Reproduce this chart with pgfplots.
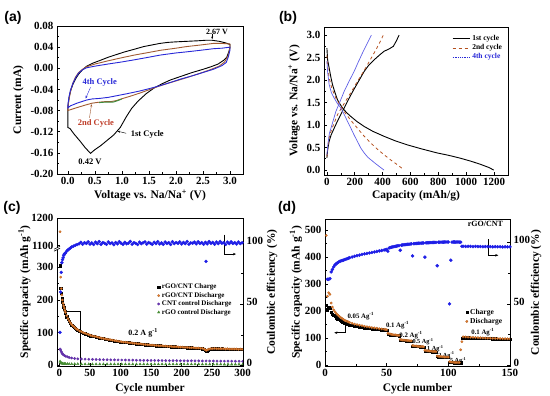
\documentclass[border=0pt]{standalone}
\usepackage{fontspec}
\setmainfont{Liberation Serif}
\newfontfamily\panelfont{Liberation Sans}
\usepackage{pgfplots}
\pgfplotsset{compat=1.18}
\usepackage{pgfplotstable}
\usetikzlibrary{arrows.meta}

\definecolor{cvbrown}{RGB}{160,90,50}
\definecolor{cvblue}{RGB}{40,40,215}
\definecolor{cvgreen}{RGB}{60,140,60}
\definecolor{lblred}{RGB}{190,60,40}
\definecolor{dashbrown}{RGB}{180,80,30}
\definecolor{cyc4}{RGB}{95,95,230}
\definecolor{dischorange}{RGB}{230,125,45}
\definecolor{ceblue}{RGB}{30,30,230}
\definecolor{cntpurple}{RGB}{100,50,170}
\definecolor{rgogreen}{RGB}{70,140,50}

% ---------- panel (c) data ----------
\pgfplotstableread{
cyc chg dis
1 305 409
2 235 270
3 220 235
4 205 215
5 195 200
6 185 190
7 178 182
8 171 175
9 165 168
10 159 162
12 149 152
14 141 143
16 134 136
18 128 130
20 123 125
22 119 121
24 116 118
26 113 114
28 110 111
30 107 109
33 104 105
36 102 103
39 99 100
42 97 98
45 95 96
48 93 94
51 91 92
54 89 90
57 88 89
60 87 88
63 85 86
66 84 85
69 83 83
72 82 82
75 80 81
78 79 80
81 78 79
84 77 78
87 76 77
90 75 76
93 74 75
96 73 74
99 72 73
102 72 72
105 71 71
108 70 71
111 70 70
114 69 69
117 68 69
120 68 68
123 67 67
126 66 67
129 66 66
132 65 66
135 65 65
138 64 64
141 63 64
144 63 63
147 62 63
150 62 62
153 61 62
156 61 61
159 60 61
162 60 60
165 60 60
168 59 60
171 59 59
174 58 59
177 58 58
180 58 58
183 57 58
186 57 57
189 57 57
192 56 57
195 56 56
198 56 56
201 55 56
204 55 55
207 55 55
210 54 55
213 54 54
216 54 54
219 53 54
222 53 53
225 53 53
228 52 53
231 52 52
234 51 52
237 49 50
239 46 47
241 45 46
243 47 48
245 49 50
248 50 51
251 51 51
254 51 52
257 51 51
260 51 51
263 50 51
266 51 51
269 50 51
272 50 50
275 50 51
278 50 50
281 50 50
284 49 50
287 50 50
290 49 50
293 49 49
296 49 50
299 49 49
}\tabCcap

\pgfplotstableread{
cyc cnt rgo
1 50 12
2 47 9
3 42 7
4 38 6
5 35 5.5
6 33 5
8 30 5
10 28 4.5
13 26 4.5
16 24 4
20 22.5 4
25 21 4
30 20 4
36 19.5 3.5
42 19 3.5
48 18.6 3.5
54 18.3 3.5
60 18 3.5
66 17.7 3.5
72 17.4 3.5
78 17.2 3.5
84 17 3.5
90 16.8 3.5
96 16.6 3.5
102 16.4 3.5
108 16.2 3.5
114 16 3.5
120 15.8 3.5
126 15.6 3.3
132 15.5 3.3
138 15.3 3.3
144 15.2 3.3
150 15 3.3
156 14.9 3.3
162 14.8 3.3
168 14.6 3.3
174 14.5 3.3
180 14.4 3.2
186 14.3 3.2
192 14.2 3.2
198 14.1 3.2
204 14 3.2
210 13.9 3.2
216 13.8 3.2
222 13.7 3.2
228 13.6 3.2
234 13.5 3.1
240 13.4 3.1
246 13.3 3.1
252 13.2 3.1
258 13.1 3.1
264 13 3.1
270 12.9 3.0
276 12.8 3.0
282 12.7 3.0
288 12.6 3.0
294 12.5 3.0
300 12.4 3.0
}\tabCctrl

\pgfplotstableread{
cyc ce
1 27
2 60
3 76
4 84
5 86.5
6 88
7 90
8 91
9 91.5
10 92
12 93.5
14 94.5
16 95.3
18 96
20 96.8
23 97.5
26 98.2
29 98.8
32 99.4
35 100.6
38 99.0
41 100.3
44 99.7
47 101.0
50 99.2
53 100.1
56 98.8
59 100.7
62 99.5
65 101.2
68 99.0
71 100.4
74 99.8
77 98.9
80 100.9
83 99.6
86 100.2
89 98.7
92 100.5
95 99.3
98 101.1
101 99.9
104 98.9
107 100.6
110 99.4
113 100.0
116 101.3
119 99.1
122 100.4
125 99.7
128 98.8
131 100.8
134 99.5
137 100.2
140 101.0
143 99.2
146 100.5
149 99.8
152 98.9
155 100.7
158 99.6
161 101.2
164 99.3
167 100.1
170 99.0
173 100.9
176 99.7
179 100.3
182 98.9
185 101.1
188 99.5
191 100.4
194 99.8
197 100.9
200 99.2
203 100.5
206 99.6
209 101.3
212 99.1
215 100.2
218 99.9
221 100.8
224 99.3
227 101.0
230 99.7
233 100.4
236 99.0
239 100.6
240 85.0
242 99.4
245 101.2
248 99.8
251 100.5
254 99.1
257 100.9
260 99.6
263 101.3
266 99.9
269 100.4
272 98.9
275 100.8
278 99.5
281 101.0
284 99.7
287 100.3
290 99.2
293 100.9
296 99.6
299 100.2
}\tabCce

% ---------- panel (d) data ----------
\pgfplotstableread{
cyc chg dis ce
1 222 480 nan
2 205 255 70
3 215 268 70
4 210 262 70.5
5 195 230 76
6 190 215 78
7 185 205 80
8 180 198 81.5
9 176 192 82.5
10 172 187 83.3
11 169 183 84
12 166 179 84.5
13 163 175 85
14 161 172 85.3
15 158 169 85.6
16 156 166 86
17 154 164 86.4
18 152 162 86.8
19 151 160 87.2
20 149 158 87.5
22 147 155 88.1
24 145 152 88.7
26 143 150 89.2
28 141 148 89.7
30 140 146 90.2
32 138 144 90.6
34 137 142 91
36 136 141 91.4
38 135 139 91.8
40 134 138 92.2
42 133 137 92.6
44 132 135 93.0
46 131 134 93.4
48 130 133 93.8
49 130 132 94.0
50 129 131 94.3
51 115 118 92.8
52 114 116 95.5
53 113 115 95.8
54 112 114 96.1
55 112 113 96.3
56 111 112 96.6
57 111 112 96.8
58 110 111 97.0
59 110 110 97.2
60 109 110 97.4
61 93 95 93.6
62 92 94 97.7
63 92 93 97.9
64 91 93 98.0
65 91 92 98.2
66 90 92 98.3
67 90 91 98.4
68 90 91 98.5
69 89 90 98.6
70 89 90 98.8
71 71 73 89.0
72 70 72 98.9
73 70 71 99.0
74 69 71 99.1
75 69 70 99.2
76 69 70 99.3
77 68 69 99.3
78 68 69 99.4
79 68 69 99.5
80 67 68 99.5
81 53 55 88.0
82 52 54 99.6
83 52 53 99.7
84 51 53 99.7
85 51 52 99.8
86 51 52 99.8
87 50 51 99.9
88 50 51 99.9
89 50 51 100.0
90 49 50 100.0
91 32 34 81.0
92 31 33 100.1
93 31 32 100.1
94 30 32 100.2
95 30 31 100.2
96 30 31 100.2
97 29 30 100.3
98 29 30 100.3
99 29 30 100.3
100 29 30 100.3
101 11 13 50.0
102 10 12 85.5
103 10 11 100.2
104 10 11 100.3
105 9 10 100.3
106 9 10 100.2
107 9 10 100.3
108 9 10 100.3
109 9 10 100.2
110 9 57 100.2
111 101 87 96.8
112 102 105 96.8
114 102 104.5 96.7
116 101.5 104 96.8
118 101 103.5 96.7
120 101 103 96.6
122 100.5 102.5 96.7
124 100 102 96.6
126 100 101.5 96.6
128 99.5 101 96.5
130 99 100.5 96.6
132 99 100 96.5
134 98.5 100 96.5
136 98 99.5 96.4
138 98 99 96.5
140 97.5 99 96.4
142 97 98.5 96.4
144 97 98 96.3
146 96.5 98 96.4
148 96 97.5 96.3
150 96 97.5 96.3
}\tabD

\pgfplotsset{
  myaxis/.style={
    scale only axis, anchor=south west, clip=false,
    tick align=inside, major tick length=3pt, minor tick length=1.8pt,
    axis line style={line width=0.7pt},
    tick style={black, line width=0.6pt},
    ticklabel style={font=\fontsize{11}{12}\selectfont\bfseries},
    label style={font=\fontsize{11.5}{13}\selectfont\bfseries},
    /pgf/number format/assume math mode=true,
    /pgf/number format/1000 sep={},
    xtick pos=bottom, ytick pos=left,
  },
  capmark/.style={only marks, mark=square*, mark size=1.1pt, mark options={fill=black, draw=black}},
  dismark/.style={only marks, mark=*, mark size=1.25pt, mark options={fill=dischorange, draw=dischorange!75!black, line width=0.2pt}},
  cemark/.style={only marks, mark=*, mark size=1.5pt, mark options={fill=ceblue, draw=ceblue}},
}

\begin{document}
\begin{tikzpicture}
\path[use as bounding box] (0pt,0pt) rectangle (550pt,396pt);

% ======================= (a) =======================
\begin{axis}[myaxis, at={(57pt,222pt)}, width=186pt, height=148pt,
  xmin=-0.2, xmax=3.24, ymin=-0.2, ymax=0.08,
  xtick={0,0.5,1,1.5,2,2.5,3}, ytick={-0.2,-0.16,-0.12,-0.08,-0.04,0,0.04,0.08},
  minor x tick num=1, minor y tick num=1,
  xticklabel style={/pgf/number format/.cd, fixed, fixed zerofill, precision=1},
  yticklabel style={/pgf/number format/.cd, fixed, fixed zerofill, precision=2},
  xlabel={Voltage vs. Na/Na\textsuperscript{+} (V)}, ylabel={Current (mA)},
  xlabel shift=-2pt,
]
\addplot[black, line width=0.9pt] coordinates {
(0.00,-0.080) (0.01,-0.066) (0.03,-0.052) (0.06,-0.040) (0.10,-0.029) (0.15,-0.019) (0.20,-0.011) (0.27,-0.003) (0.35,0.004) (0.47,0.010) (0.60,0.015) (0.75,0.021) (0.90,0.026) (1.05,0.031) (1.23,0.036) (1.40,0.041) (1.55,0.044) (1.70,0.047) (1.85,0.049) (2.00,0.050) (2.20,0.051) (2.40,0.052) (2.55,0.053) (2.67,0.053) (2.80,0.051) (2.92,0.048) (3.00,0.045) (3.00,0.040) (2.98,0.032) (2.94,0.021) (2.88,0.015) (2.78,0.008) (2.65,0.003) (2.50,-0.002) (2.30,-0.008) (2.10,-0.015) (1.90,-0.022) (1.75,-0.029) (1.60,-0.037) (1.45,-0.048) (1.30,-0.062) (1.18,-0.076) (1.08,-0.092) (0.97,-0.112) (0.85,-0.126) (0.72,-0.137) (0.60,-0.147) (0.50,-0.154) (0.42,-0.161) (0.32,-0.150) (0.22,-0.137) (0.12,-0.125) (0.04,-0.114) (0.00,-0.112) (0.00,-0.080)};
\addplot[cvbrown, line width=0.9pt] coordinates {
(3.00,0.040) (2.97,0.025) (2.90,0.012) (2.80,0.004) (2.60,-0.004) (2.40,-0.011) (2.19,-0.018) (2.00,-0.024) (1.83,-0.029) (1.60,-0.037) (1.33,-0.047) (1.15,-0.053) (1.02,-0.057) (0.90,-0.061) (0.80,-0.063) (0.70,-0.063) (0.59,-0.064) (0.45,-0.066) (0.31,-0.070) (0.15,-0.075) (0.00,-0.080) (0.00,-0.075) (0.02,-0.060) (0.05,-0.044) (0.09,-0.029) (0.14,-0.017) (0.20,-0.008) (0.27,-0.002) (0.35,0.003) (0.50,0.008) (0.74,0.014) (1.00,0.020) (1.23,0.025) (1.50,0.030) (1.71,0.034) (2.00,0.038) (2.19,0.041) (2.45,0.044) (2.69,0.047) (2.85,0.047) (3.00,0.046) (3.00,0.040)};
\addplot[cvgreen, line width=0.9pt] coordinates {(0.58,-0.065) (0.70,-0.064) (0.84,-0.064) (0.93,-0.061) (1.00,-0.058)};
\addplot[cvblue, line width=0.9pt] coordinates {
(3.00,0.035) (2.97,0.022) (2.93,0.011) (2.85,0.005) (2.69,-0.002) (2.50,-0.008) (2.31,-0.014) (2.10,-0.020) (1.83,-0.029) (1.60,-0.036) (1.33,-0.043) (1.10,-0.048) (0.90,-0.052) (0.75,-0.055) (0.59,-0.057) (0.45,-0.058) (0.35,-0.060) (0.17,-0.066) (0.05,-0.071) (0.00,-0.075) (0.00,-0.070) (0.02,-0.055) (0.05,-0.041) (0.10,-0.027) (0.15,-0.017) (0.20,-0.009) (0.27,-0.003) (0.35,0.001) (0.50,0.004) (0.74,0.008) (1.00,0.012) (1.23,0.016) (1.50,0.021) (1.71,0.025) (2.00,0.029) (2.19,0.031) (2.45,0.034) (2.69,0.037) (2.85,0.038) (3.00,0.040) (3.00,0.035)};
\node[font=\fontsize{8}{9}\selectfont\bfseries] at (axis cs:2.76,0.0685) {2.67 V};
\draw[-{Stealth[length=2.5pt,width=2pt]}] (axis cs:2.67,0.064) -- (axis cs:2.67,0.055);
\node[font=\fontsize{8.5}{10}\selectfont\bfseries, text=cvblue] at (axis cs:0.59,-0.027) {4th Cycle};
\draw[cvblue, -{Stealth[length=2.5pt,width=2pt]}] (axis cs:0.42,-0.036) -- (axis cs:0.33,-0.057);
\node[font=\fontsize{8.5}{10}\selectfont\bfseries, text=lblred] at (axis cs:0.52,-0.104) {2nd Cycle};
\draw[cvbrown, -{Stealth[length=2.5pt,width=2pt]}] (axis cs:0.40,-0.094) -- (axis cs:0.44,-0.068);
\node[font=\fontsize{8.5}{10}\selectfont\bfseries] at (axis cs:1.47,-0.125) {1st Cycle};
\draw[-{Stealth[length=2.5pt,width=2pt]}] (axis cs:1.08,-0.123) -- (axis cs:0.92,-0.119);
\node[font=\fontsize{8.5}{10}\selectfont\bfseries] at (axis cs:0.41,-0.176) {0.42 V};
\end{axis}

% ======================= (b) =======================
\begin{axis}[myaxis, at={(324pt,221pt)}, width=184pt, height=148pt,
  xmin=-21, xmax=1300, ymin=-0.11, ymax=3.18,
  xtick={0,200,400,600,800,1000,1200}, ytick={0,0.5,1,1.5,2,2.5,3},
  minor x tick num=1, minor y tick num=1,
  yticklabel style={/pgf/number format/.cd, fixed, fixed zerofill, precision=1},
  xlabel={Capacity (mAh/g)}, ylabel={Voltage vs. Na/Na\textsuperscript{+} (V)},
  xlabel shift=-2pt,
  legend style={at={(0.985,0.965)}, anchor=north east, draw=none, fill=none,
    font=\fontsize{7.5}{8.5}\selectfont\bfseries, row sep=-1.5pt, inner sep=1pt},
  legend cell align=left,
]
\addplot[black, line width=0.9pt, forget plot] coordinates {
(0,2.71) (5,2.45) (16,2.27) (28,2.07) (40,1.90) (58,1.72) (76,1.56) (95,1.46) (112,1.38) (140,1.28) (172,1.19) (215,1.08) (267,0.97) (330,0.86) (410,0.75) (490,0.65) (577,0.56) (680,0.47) (792,0.38) (870,0.33) (950,0.27) (1030,0.20) (1100,0.13) (1160,0.06) (1198,0.0)};
\addplot[black, line width=0.9pt, forget plot] coordinates {
(0,0.27) (5,0.45) (16,0.64) (30,0.78) (52,0.93) (70,1.05) (88,1.16) (105,1.27) (124,1.38) (148,1.53) (172,1.67) (195,1.80) (219,1.93) (243,2.06) (267,2.19) (300,2.33) (339,2.45) (375,2.55) (410,2.64) (445,2.69) (477,2.75) (500,2.88) (518,3.00)};
\addplot[dashbrown, line width=0.8pt, dashed, forget plot] coordinates {
(0,2.55) (5,2.30) (16,2.05) (35,1.82) (64,1.60) (90,1.46) (124,1.30) (170,1.11) (219,0.93) (265,0.76) (315,0.60) (360,0.47) (410,0.34) (460,0.22) (505,0.12) (530,0.06) (553,0.0)};
\addplot[dashbrown, line width=0.8pt, dashed, forget plot] coordinates {
(0,0.30) (8,0.55) (16,0.72) (29,0.86) (50,1.03) (76,1.23) (110,1.41) (148,1.60) (183,1.78) (219,1.97) (255,2.15) (291,2.34) (320,2.50) (351,2.67) (380,2.84) (405,3.00)};
\addplot[cyc4, line width=0.7pt, forget plot] coordinates {
(0,2.42) (5,2.18) (16,1.90) (32,1.72) (52,1.60) (75,1.48) (100,1.38) (125,1.23) (148,1.08) (172,0.93) (195,0.78) (220,0.63) (243,0.49) (270,0.37) (295,0.28) (315,0.23) (350,0.14) (380,0.07) (410,0.0)};
\addplot[cyc4, line width=0.7pt, forget plot] coordinates {
(0,0.34) (8,0.60) (18,0.82) (29,0.93) (45,1.10) (64,1.30) (95,1.53) (124,1.75) (160,1.98) (195,2.19) (225,2.40) (255,2.60) (285,2.79) (319,3.00)};
\addlegendimage{black, line width=0.9pt}
\addlegendentry{1st cycle}
\addlegendimage{dashbrown, line width=0.8pt, dashed}
\addlegendentry{2nd cycle}
\addlegendimage{cvblue, line width=0.8pt, densely dotted}
\addlegendentry{\textcolor{cvblue}{4th cycle}}
\end{axis}

% ======================= (c) left =======================
\begin{axis}[myaxis, at={(57pt,30pt)}, width=186pt, height=148pt,
  xmin=-4, xmax=300.5, ymin=-2, ymax=451,
  xtick={0,50,100,150,200,250,300}, minor x tick num=1,
  ytick={0,100,200,300,367,451}, yticklabels={0,100,200,300,1100,1200},
  minor ytick={50,150,250},
  xlabel={Cycle number}, ylabel={Specific capacity (mAh g\textsuperscript{-1})},
  ylabel shift=-6pt,
  legend style={at={(0.955,0.575)}, anchor=north east, draw=none, fill=none,
    font=\fontsize{7}{8}\selectfont\bfseries, row sep=-2pt, inner sep=1pt},
  legend cell align=left,
]
\addplot[capmark] table[x=cyc, y=chg] {\tabCcap};
\addlegendentry{rGO/CNT Charge}
\addplot[dismark] table[x=cyc, y=dis] {\tabCcap};
\addlegendentry{rGO/CNT Discharge}
\addplot[only marks, mark=*, mark size=1.2pt, mark options={fill=cntpurple, draw=cntpurple}] table[x=cyc, y=cnt] {\tabCctrl};
\addlegendentry{CNT control Discharge}
\addplot[only marks, mark=triangle*, mark size=1.4pt, mark options={fill=rgogreen, draw=rgogreen}] table[x=cyc, y=rgo] {\tabCctrl};
\addlegendentry{rGO control Discharge}
\draw[line width=0.6pt, -{Stealth[length=3pt,width=2.5pt]}] (axis cs:34,-2) -- (axis cs:34,166) -- (axis cs:6,166);
\node[font=\fontsize{8}{9}\selectfont\bfseries] at (axis cs:137,99) {0.2 A g\textsuperscript{-1}};
% axis break mark
\fill[white] ([xshift=-3pt]axis cs:-4,354) rectangle ([xshift=3pt]axis cs:-4,360);
\draw[line width=0.6pt] ([xshift=-3pt,yshift=-1.5pt]axis cs:-4,354) -- ([xshift=3pt,yshift=1.5pt]axis cs:-4,354);
\draw[line width=0.6pt] ([xshift=-3pt,yshift=-1.5pt]axis cs:-4,360) -- ([xshift=3pt,yshift=1.5pt]axis cs:-4,360);
\end{axis}

% ======================= (c) right =======================
\begin{axis}[myaxis, at={(57pt,30pt)}, width=186pt, height=148pt,
  xmin=-4, xmax=300.5, ymin=-0.5, ymax=120.5,
  axis x line=none, axis y line*=right, ytick pos=right,
  ytick={0,50,100}, minor ytick={25,75},
  yticklabel style={yshift=2pt},
  ylabel={Coulombic efficiency (\%)}, ylabel shift=-3pt,
]
\addplot[cemark] table[x=cyc, y=ce] {\tabCce};
\draw[line width=0.6pt, -{Stealth[length=3pt,width=2.5pt]}] (axis cs:270,107) -- (axis cs:270,91) -- (axis cs:289,91);
\end{axis}

% ======================= (d) left =======================
\begin{axis}[myaxis, at={(325pt,30pt)}, width=185pt, height=147pt,
  xmin=0, xmax=150, ymin=-3, ymax=541,
  xtick={0,50,100,150}, minor x tick num=1,
  ytick={0,100,200,300,400,500}, minor y tick num=1,
  xlabel={Cycle number}, ylabel={Specific capacity (mAh g\textsuperscript{-1})},
  ylabel shift=-4pt,
  legend style={at={(0.975,0.41)}, anchor=north east, draw=none, fill=none,
    font=\fontsize{7.5}{8.5}\selectfont\bfseries, row sep=-1.5pt, inner sep=1pt},
  legend cell align=left,
]
\addplot[capmark] table[x=cyc, y=chg] {\tabD};
\addlegendentry{Charge}
\addplot[dismark] table[x=cyc, y=dis] {\tabD};
\addlegendentry{Discharge}
\draw[line width=0.6pt, -{Stealth[length=3pt,width=2.5pt]}] (axis cs:16.5,153) -- (axis cs:16.5,120) -- (axis cs:7.5,120);
\begin{scope}[font=\fontsize{6.8}{8}\selectfont\bfseries]
\node at (axis cs:29,183) {0.05 Ag\textsuperscript{-1}};
\node at (axis cs:58.8,149) {0.1 Ag\textsuperscript{-1}};
\node at (axis cs:69.7,112) {0.2 Ag\textsuperscript{-1}};
\end{scope}
\begin{scope}[font=\fontsize{6.2}{7}\selectfont\bfseries, inner sep=0.5pt]
\node at (axis cs:79.5,86) {0.5 Ag\textsuperscript{-1}};
\node at (axis cs:89.5,60) {1 Ag\textsuperscript{-1}};
\node at (axis cs:98.5,37) {2 Ag\textsuperscript{-1}};
\node at (axis cs:108,16) {5 Ag\textsuperscript{-1}};
\end{scope}
\node[font=\fontsize{6.8}{8}\selectfont\bfseries] at (axis cs:128,122) {0.1 Ag\textsuperscript{-1}};
\node[font=\fontsize{8}{9}\selectfont\bfseries] at (axis cs:130,522) {rGO/CNT};
\end{axis}

% ======================= (d) right =======================
\begin{axis}[myaxis, at={(325pt,30pt)}, width=185pt, height=147pt,
  xmin=0, xmax=150, ymin=-0.5, ymax=119,
  axis x line=none, axis y line*=right, ytick pos=right,
  ytick={0,50,100}, minor ytick={25,75},
  yticklabel style={yshift=2pt},
  ylabel={Coulombic efficiency (\%)}, ylabel shift=-6pt,
]
\addplot[cemark] table[x=cyc, y=ce] {\tabD};
\draw[line width=0.6pt, -{Stealth[length=3pt,width=2.5pt]}] (axis cs:132,102.5) -- (axis cs:132,89.5) -- (axis cs:140.5,89.5);
\end{axis}

% panel letters
\node[font=\panelfont\bfseries\fontsize{14}{16}\selectfont] at (13pt,378pt) {(a)};
\node[font=\panelfont\bfseries\fontsize{14}{16}\selectfont] at (288pt,378pt) {(b)};
\node[font=\panelfont\bfseries\fontsize{14}{16}\selectfont] at (12pt,188pt) {(c)};
\node[font=\panelfont\bfseries\fontsize{14}{16}\selectfont] at (287pt,188pt) {(d)};
\end{tikzpicture}
\end{document}
